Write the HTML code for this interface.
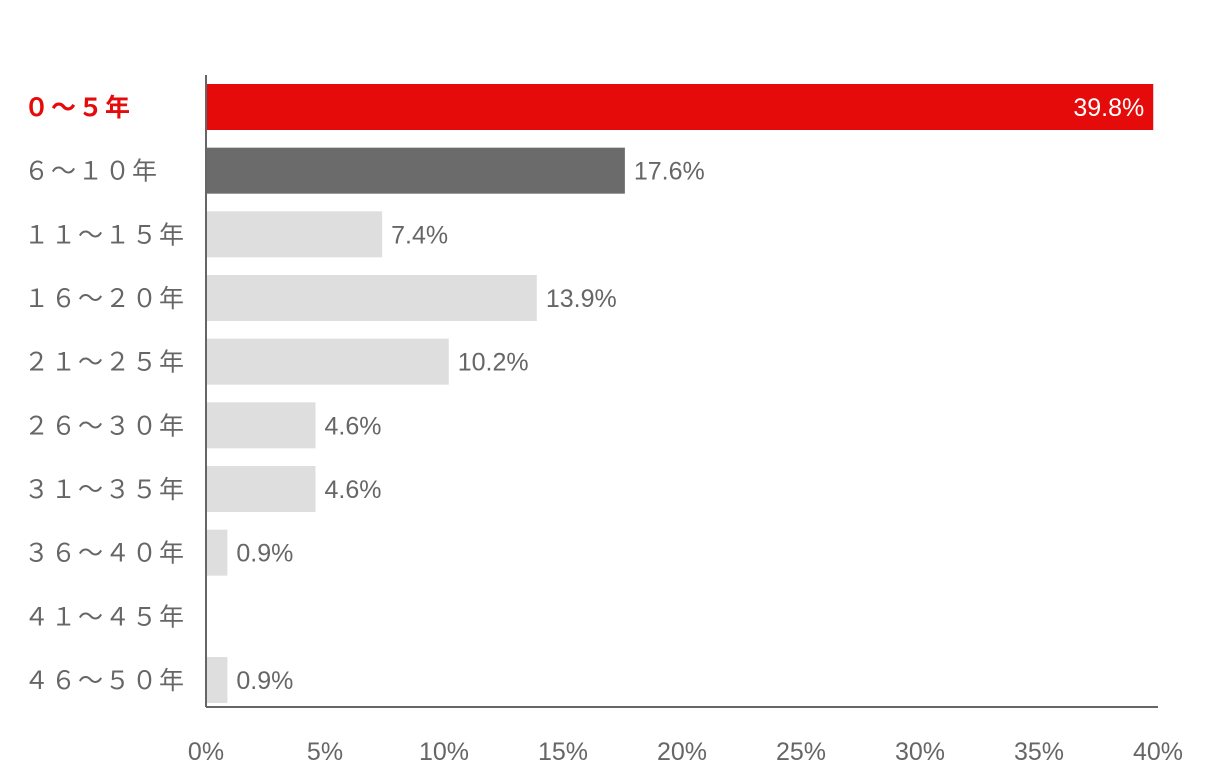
<!DOCTYPE html>
<html><head><meta charset="utf-8"><style>
html,body{margin:0;padding:0;background:#fff;}
svg text{font-family:"Liberation Sans","Noto Sans CJK JP",sans-serif;}
</style></head><body>
<svg id="chart" width="1220" height="772" xmlns="http://www.w3.org/2000/svg"></svg>
<script>
const categories=["０～５年","６～１０年","１１～１５年","１６～２０年","２１～２５年","２６～３０年","３１～３５年","３６～４０年","４１～４５年","４６～５０年"];
const values=[39.8,17.6,7.4,13.9,10.2,4.6,4.6,0.9,0,0.9];
const valueLabels=["39.8%","17.6%","7.4%","13.9%","10.2%","4.6%","4.6%","0.9%","","0.9%"];
const ticks=[0,5,10,15,20,25,30,35,40];
const tickLabels=["0%","5%","10%","15%","20%","25%","30%","35%","40%"];
const svg=document.getElementById('chart');
const NS="http://www.w3.org/2000/svg";
const x0=206,x1=1158,xmax=40;
const xs=v=>x0+(v/xmax)*(x1-x0);
const yTop=107,yBot=680;
const ys=i=>yTop+i*(yBot-yTop)/(categories.length-1);
const bh=46;
function mk(tag,attrs){const e=document.createElementNS(NS,tag);for(const k in attrs)e.setAttribute(k,attrs[k]);svg.appendChild(e);return e;}
categories.forEach((c,i)=>{
  const cy=ys(i);
  const fill=i===0?"#e50b0b":(i===1?"#6b6b6b":"#dedede");
  if(values[i]>0){
    const r=mk('rect',{x:x0,y:cy-bh/2,width:xs(values[i])-x0,height:bh,fill:fill});
    
    
  }
  const t=mk('text',{x:24,y:cy+9,'font-size':25,fill:i===0?"#e50b0b":"#666",'font-weight':i===0?'bold':'normal','letter-spacing':'2'});
  t.textContent=c;
  
  
  if(valueLabels[i]){
    const inside=i===0;
    const v=mk('text',{x:inside?xs(values[i])-9:xs(values[i])+9,y:cy+9,'font-size':25,fill:inside?"#fff":"#666",'text-anchor':inside?'end':'start'});
    v.textContent=valueLabels[i];
    
    
  }
});
const ya=mk('line',{x1:x0,y1:75,x2:x0,y2:707,stroke:"#666",'stroke-width':2});


const xa=mk('line',{x1:x0,y1:707,x2:x1,y2:707,stroke:"#666",'stroke-width':2});


ticks.forEach((t,i)=>{
  const e=mk('text',{x:xs(t),y:760,'font-size':25,fill:"#666",'text-anchor':'middle'});
  e.textContent=tickLabels[i];
  
  
});
</script>
</body></html>
